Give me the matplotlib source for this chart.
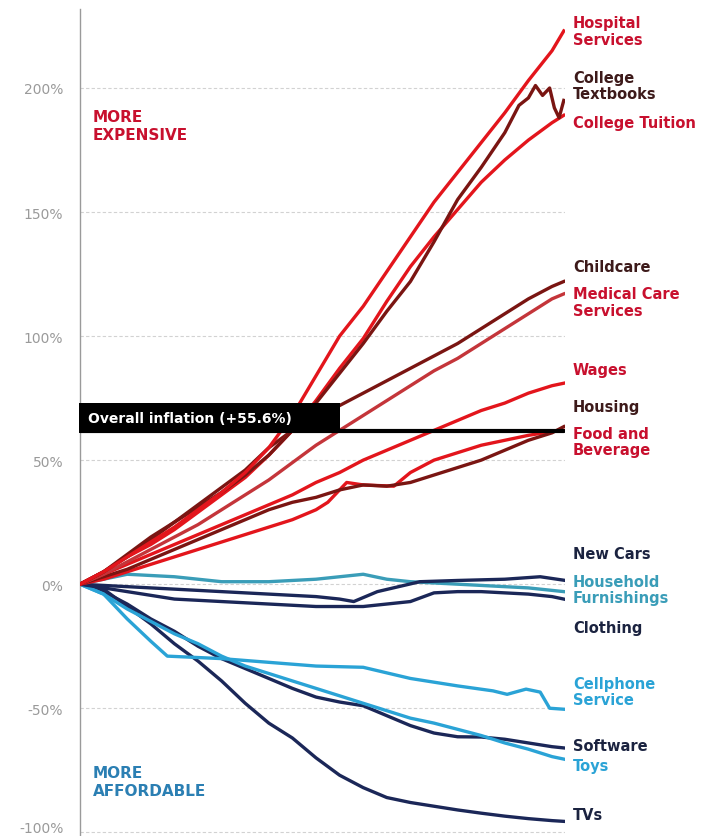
import numpy as np
import matplotlib.pyplot as plt
import matplotlib.transforms as mtransforms
from matplotlib.patches import Rectangle

# years since Jan 1998 (common grid for most series)
t_years = [0, 1, 2, 3, 4, 5, 6, 7, 8, 9, 10, 11, 12, 13, 14, 15, 16, 17, 18, 19, 20, 20.5]

# price change in percent
hospital = [0, 5, 11, 17, 23, 30, 37, 45, 55, 68, 84, 100, 112, 126, 140, 154, 166, 178, 190, 203, 215, 223]
tuition = [0, 5, 11, 16, 22, 29, 36, 43, 52, 62, 74, 87, 99, 114, 128, 140, 151, 162, 171, 179, 186, 189]
childcare = [0, 5, 11, 18, 25, 32, 39, 46, 55, 62, 67, 72, 77, 82, 87, 92, 97, 103, 109, 115, 120, 122]
medical = [0, 4, 9, 14, 19, 24, 30, 36, 42, 49, 56, 62, 68, 74, 80, 86, 91, 97, 103, 109, 115, 117]
wages = [0, 4, 8, 12, 16, 20, 24, 28, 32, 36, 41, 45, 50, 54, 58, 62, 66, 70, 73, 77, 80, 81]
housing = [0, 3, 6, 10, 14, 18, 22, 26, 30, 33, 35, 38, 40, 39.5, 41, 44, 47, 50, 54, 58, 61, 63.5]
clothing = [0, -1.5, -3, -4.5, -6, -6.5, -7, -7.5, -8, -8.5, -9, -9, -9, -8, -7, -3.5, -3, -3, -3.5, -4, -5, -6]
furnishings = [0, 2, 4, 3.5, 3, 2, 1, 1, 1, 1.5, 2, 3, 4, 2, 1, 0.5, 0, -0.5, -1, -1.5, -2.5, -3]
toys = [0, -4, -10, -15, -20, -24, -29, -33, -36, -39, -42, -45, -48, -51, -54, -56, -58.5, -61, -64, -66.5, -69.5, -70.5]
software = [0, -3, -8, -14, -19, -25, -30, -34, -38, -42, -45.5, -47.5, -49, -53, -57, -60, -61.5, -61.6, -62.5, -64, -65.5, -66]
tvs = [0, -2, -9, -16, -24, -31, -39, -48, -56, -62, -70, -77, -82, -86, -88, -89.5, -91, -92.3, -93.5, -94.5, -95.3, -95.6]

# series with sharper features get their own x points
textbooks_t = [0, 1, 2, 3, 4, 5, 6, 7, 8, 9, 10, 11, 12, 13, 14, 15, 16, 17, 18, 18.6, 19, 19.3, 19.6, 19.9, 20.1, 20.3, 20.5]
textbooks = [0, 5, 12, 19, 25, 31, 37, 44, 52, 62, 73, 85, 97, 110, 122, 138, 155, 168, 182, 193, 196, 201, 197, 200, 192, 188, 195]
food_t = [0, 1, 2, 3, 4, 5, 6, 7, 8, 9, 10, 10.5, 11.3, 12, 13.3, 14, 15, 16, 17, 18, 19, 20, 20.5]
food = [0, 2, 5, 8, 11, 14, 17, 20, 23, 26, 30, 33, 41, 40, 39.5, 45, 50, 53, 56, 58, 60, 61.5, 62]
cars_t = [0, 2, 4, 6, 8, 10, 11, 11.6, 12.6, 14.4, 16, 18, 19.5, 20.5]
cars = [0, -1, -2, -3, -4, -5, -6, -7, -3, 1, 1.5, 2, 3, 1.6]
cell_t = [0, 1, 2, 3, 3.7, 6, 8, 10, 12, 14, 16, 17.5, 18.1, 18.9, 19.5, 19.9, 20.5]
cell = [0, -4, -14, -23, -29, -30, -31.5, -33, -33.5, -38, -41, -43, -44.4, -42.3, -43.5, -50, -50.4]

overall_inflation = 61.7  # where the black bar sits on the chart
gridlines = [200, 150, 100, 50, 0, -50, -100]
tick_vals = [200, 150, 100, 50, 0, -50, -100]
tick_text = ['200%', '150%', '100%', '50%', '0%', '-50%', '-100%']

RED = '#e3151c'
DARKRED = '#7a1512'
MEDRED = '#c4353a'
NAVY = '#1b2758'
TEAL = '#3a9db8'
LIGHTBLUE = '#2aa3d6'

plt.rcParams['font.family'] = ['DejaVu Sans']

fig = plt.figure(figsize=(7.25, 8.37), dpi=100)
ax = fig.add_axes([80 / 725, 0.0, (565 - 80) / 725, (837 - 9.6) / 837])
ax.set_xlim(1998, 1998 + (565 - 80) / 23.6)
ax.set_ylim(-101.5, 232)

for g in gridlines:
    ax.axhline(g, color='#d2d2d2', lw=0.8, ls=(0, (3, 2)), zorder=0)

def yrs(t):
    return 1998 + np.array(t, dtype=float)

lw = 2.4
# blue group
ax.plot(yrs(t_years), tvs, color=NAVY, lw=lw, zorder=2)
ax.plot(yrs(t_years), software, color=NAVY, lw=lw, zorder=2)
ax.plot(yrs(t_years), toys, color=LIGHTBLUE, lw=lw, zorder=2)
ax.plot(yrs(cell_t), cell, color=LIGHTBLUE, lw=lw, zorder=2)
ax.plot(yrs(t_years), clothing, color=NAVY, lw=lw, zorder=2)
ax.plot(yrs(t_years), furnishings, color=TEAL, lw=lw, zorder=2)
ax.plot(yrs(cars_t), cars, color=NAVY, lw=lw, zorder=2)
# red group
ax.plot(yrs(food_t), food, color=RED, lw=lw, zorder=3)
ax.plot(yrs(t_years), housing, color=DARKRED, lw=lw, zorder=3)
ax.plot(yrs(t_years), wages, color=RED, lw=lw, zorder=3)
ax.plot(yrs(t_years), medical, color=MEDRED, lw=lw, zorder=3)
ax.plot(yrs(t_years), childcare, color=DARKRED, lw=lw, zorder=3)
ax.plot(yrs(t_years), tuition, color=RED, lw=lw, zorder=3)
ax.plot(yrs(textbooks_t), textbooks, color=DARKRED, lw=lw, zorder=3)
ax.plot(yrs(t_years), hospital, color=RED, lw=lw, zorder=3)

# overall inflation bar and label box
ax.plot([1998, 1998 + 20.5], [overall_inflation, overall_inflation], color='black', lw=3, zorder=4,
        solid_capstyle='round')
ax.add_patch(Rectangle((1998 - 0.05, overall_inflation - 0.6), 11.05, 11.9, facecolor='black',
                       edgecolor='none', zorder=5, clip_on=False))
ax.text(1998 + 0.35, overall_inflation + 5.2, 'Overall inflation (+55.6%)', color='white',
        fontsize=10, fontweight='bold', va='center', ha='left', zorder=6)

# right-hand labels
lab_x = 1998 + (573 - 80) / 23.6
labels = [
    ('Hospital\nServices', 223, '#c8102e'),
    ('College\nTextbooks', 201, '#3d1a1a'),
    ('College Tuition', 186, '#c8102e'),
    ('Childcare', 128, '#3d1a1a'),
    ('Medical Care\nServices', 113.7, '#c8102e'),
    ('Wages', 86.7, '#c8102e'),
    ('Housing', 71.8, '#3d1a1a'),
    ('Food and\nBeverage', 57.5, '#c8102e'),
    ('New Cars', 12.5, '#1b2340'),
    ('Household\nFurnishings', -2, TEAL),
    ('Clothing', -17.3, '#1b2340'),
    ('Cellphone\nService', -43.3, LIGHTBLUE),
    ('Software', -65, '#1b2340'),
    ('Toys', -73, LIGHTBLUE),
    ('TVs', -92.7, '#1b2340'),
]
for txt, y, c in labels:
    ax.text(lab_x, y, txt, color=c, fontsize=10.5, fontweight='bold', va='center', ha='left',
            linespacing=1.1, clip_on=False)

ax.text(1998 + 0.55, 185, 'MORE\nEXPENSIVE', color='#c8102e', fontsize=11, fontweight='bold',
        va='center', ha='left', linespacing=1.25)
ax.text(1998 + 0.55, -79.5, 'MORE\nAFFORDABLE', color='#2b7fb3', fontsize=11, fontweight='bold',
        va='center', ha='left', linespacing=1.25)

ax.set_yticks(tick_vals)
ax.set_yticklabels(tick_text)
ax.tick_params(axis='y', length=0, pad=12, labelsize=10, labelcolor='#9a9a9a')
# the bottom label sits at the picture edge; lift it a little
bottom_lab = ax.get_yticklabels()[-1]
bottom_lab.set_transform(bottom_lab.get_transform() +
                         mtransforms.ScaledTranslation(0, 4 / 72, fig.dpi_scale_trans))
ax.set_xticks([])
for s in ['top', 'right', 'bottom']:
    ax.spines[s].set_visible(False)
ax.spines['left'].set_color('#9a9a9a')
ax.spines['left'].set_linewidth(1)

fig.savefig('out.png', dpi=100)
